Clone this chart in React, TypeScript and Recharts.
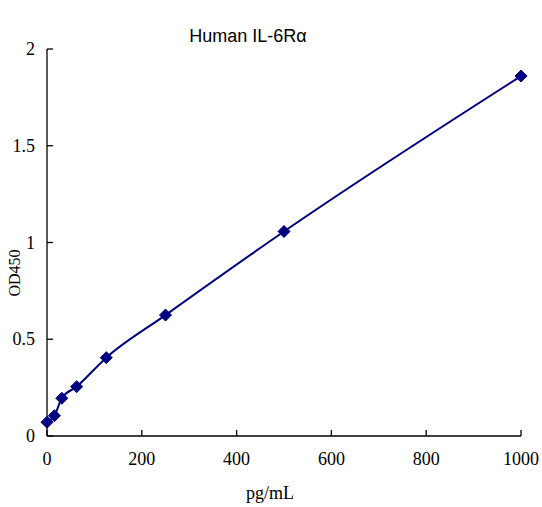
import { LineChart, Line, XAxis, YAxis, Customized } from 'recharts';

const concentrations = [0, 15.6, 31.25, 62.5, 125, 250, 500, 1000];
const odValues = [0.071, 0.105, 0.195, 0.255, 0.405, 0.625, 1.057, 1.86];
const xTicks = [0, 200, 400, 600, 800, 1000];
const yTicks = [0, 0.5, 1, 1.5, 2];

const data = concentrations.map((c, i) => ({ conc: c, od: odValues[i] }));

const NAVY = '#000080';
const serif = '"Liberation Serif", "DejaVu Serif", serif';

function Diamond(props: any) {
  const { cx, cy } = props;
  if (cx == null || cy == null) return null;
  const r = 6;
  return (
    <polygon
      points={`${cx},${cy - r} ${cx + r},${cy} ${cx},${cy + r} ${cx - r},${cy}`}
      fill={NAVY}
      stroke={NAVY}
    />
  );
}

function XTick(props: any) {
  const { x, y, payload } = props;
  return (
    <text x={x} y={y} dy={13} textAnchor="middle" fontFamily={serif} fontSize={18} fill="#000">
      {payload.value}
    </text>
  );
}

function YTick(props: any) {
  const { x, y, payload } = props;
  return (
    <text x={x} y={y} dy={6} textAnchor="end" fontFamily={serif} fontSize={18} fill="#000">
      {payload.value}
    </text>
  );
}

function Texts() {
  return (
    <g>
      <text
        x={248}
        y={42}
        textAnchor="middle"
        fontFamily='"Liberation Sans", Arial, sans-serif'
        fontSize={18}
        fill="#000"
      >
        Human IL-6Rα
      </text>
      <text
        x={0}
        y={0}
        transform="translate(20, 273) rotate(-90)"
        textAnchor="middle"
        fontFamily={serif}
        fontSize={16}
        fill="#000"
      >
        OD450
      </text>
      <text x={270} y={499} textAnchor="middle" fontFamily={serif} fontSize={18} fill="#000">
        pg/mL
      </text>
    </g>
  );
}

export default function App() {
  return (
    <div style={{ position: 'absolute', left: 0, top: 0, background: '#fff' }}>
      <LineChart width={542} height={507} data={data} margin={{ top: 49, right: 21, left: 0, bottom: 0 }}>
        <XAxis
          dataKey="conc"
          type="number"
          domain={[0, 1000]}
          ticks={xTicks}
          height={71}
          axisLine={{ stroke: '#000', strokeWidth: 1.3 }}
          tickLine={{ stroke: '#000', strokeWidth: 1.3 }}
          tickSize={-6}
          tickMargin={22}
          tick={<XTick />}
          interval={0}
        />
        <YAxis
          type="number"
          domain={[0, 2]}
          ticks={yTicks}
          width={47}
          axisLine={{ stroke: '#000', strokeWidth: 1.3 }}
          tickLine={{ stroke: '#000', strokeWidth: 1.3 }}
          tickSize={-6}
          tickMargin={18}
          tick={<YTick />}
          interval={0}
        />
        <Line
          type="monotone"
          dataKey="od"
          stroke={NAVY}
          strokeWidth={2}
          dot={<Diamond />}
          activeDot={false}
          isAnimationActive={false}
        />
        <Customized component={Texts} />
      </LineChart>
    </div>
  );
}
